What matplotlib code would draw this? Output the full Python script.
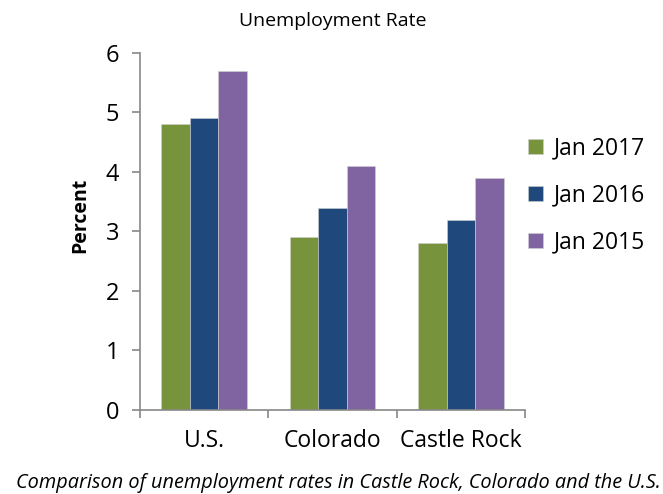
import matplotlib
matplotlib.use("Agg")
import matplotlib.pyplot as plt
import numpy as np

places = ["U.S.", "Colorado", "Castle Rock"]
series = ["Jan 2017", "Jan 2016", "Jan 2015"]
jan2017 = [4.8, 2.9, 2.8]
jan2016 = [4.9, 3.4, 3.2]
jan2015 = [5.7, 4.1, 3.9]
colors = ["#77933C", "#1F497D", "#8064A2"]

plt.rcParams['font.family'] = ['Open Sans', 'DejaVu Sans']

fig = plt.figure(figsize=(6.63, 4.94), dpi=100)
ax = fig.add_axes([0.211, 0.170, 0.581, 0.723])

x = np.arange(len(places))
w = 0.222
for i, (vals, c) in enumerate(zip([jan2017, jan2016, jan2015], colors)):
    ax.bar(x + (i - 1) * w, vals, w, color=c, label=series[i],
           edgecolor="#d0d0d0", linewidth=0.4)

ax.set_xlim(-0.5, 2.5)
ax.set_ylim(0, 6)
ax.set_yticks(range(0, 7))
ax.set_yticklabels([str(v) for v in range(0, 7)], fontsize=17)
ax.set_xticks(x)
ax.set_xticklabels(places, fontsize=16.5)
ax.tick_params(axis="x", length=0, pad=14)
ax.set_xticks([-0.5, 0.5, 1.5, 2.5], minor=True)
ax.tick_params(axis="x", which="minor", length=6, color="#888888", width=1.2)
ax.tick_params(axis="y", length=6, color="#888888", width=1.2, pad=9)

for s in ["top", "right"]:
    ax.spines[s].set_visible(False)
for s in ["left", "bottom"]:
    ax.spines[s].set_color("#888888")
    ax.spines[s].set_linewidth(1.2)

ax.set_ylabel("Percent", fontsize=14, fontweight="bold")
ax.yaxis.set_label_coords(-0.13, 0.545)
ax.set_title("Unemployment Rate", fontsize=14, pad=19)

ax.legend(loc="center left", bbox_to_anchor=(0.955, 0.60), frameon=False,
          fontsize=16.5, handlelength=0.65, handleheight=0.65,
          labelspacing=1.0, handletextpad=0.45)

fig.text(0.51, 0.012, "Comparison of unemployment rates in Castle Rock, Colorado and the U.S.",
         ha="center", fontsize=14.3, style="italic")

fig.savefig("out.png", dpi=100)
